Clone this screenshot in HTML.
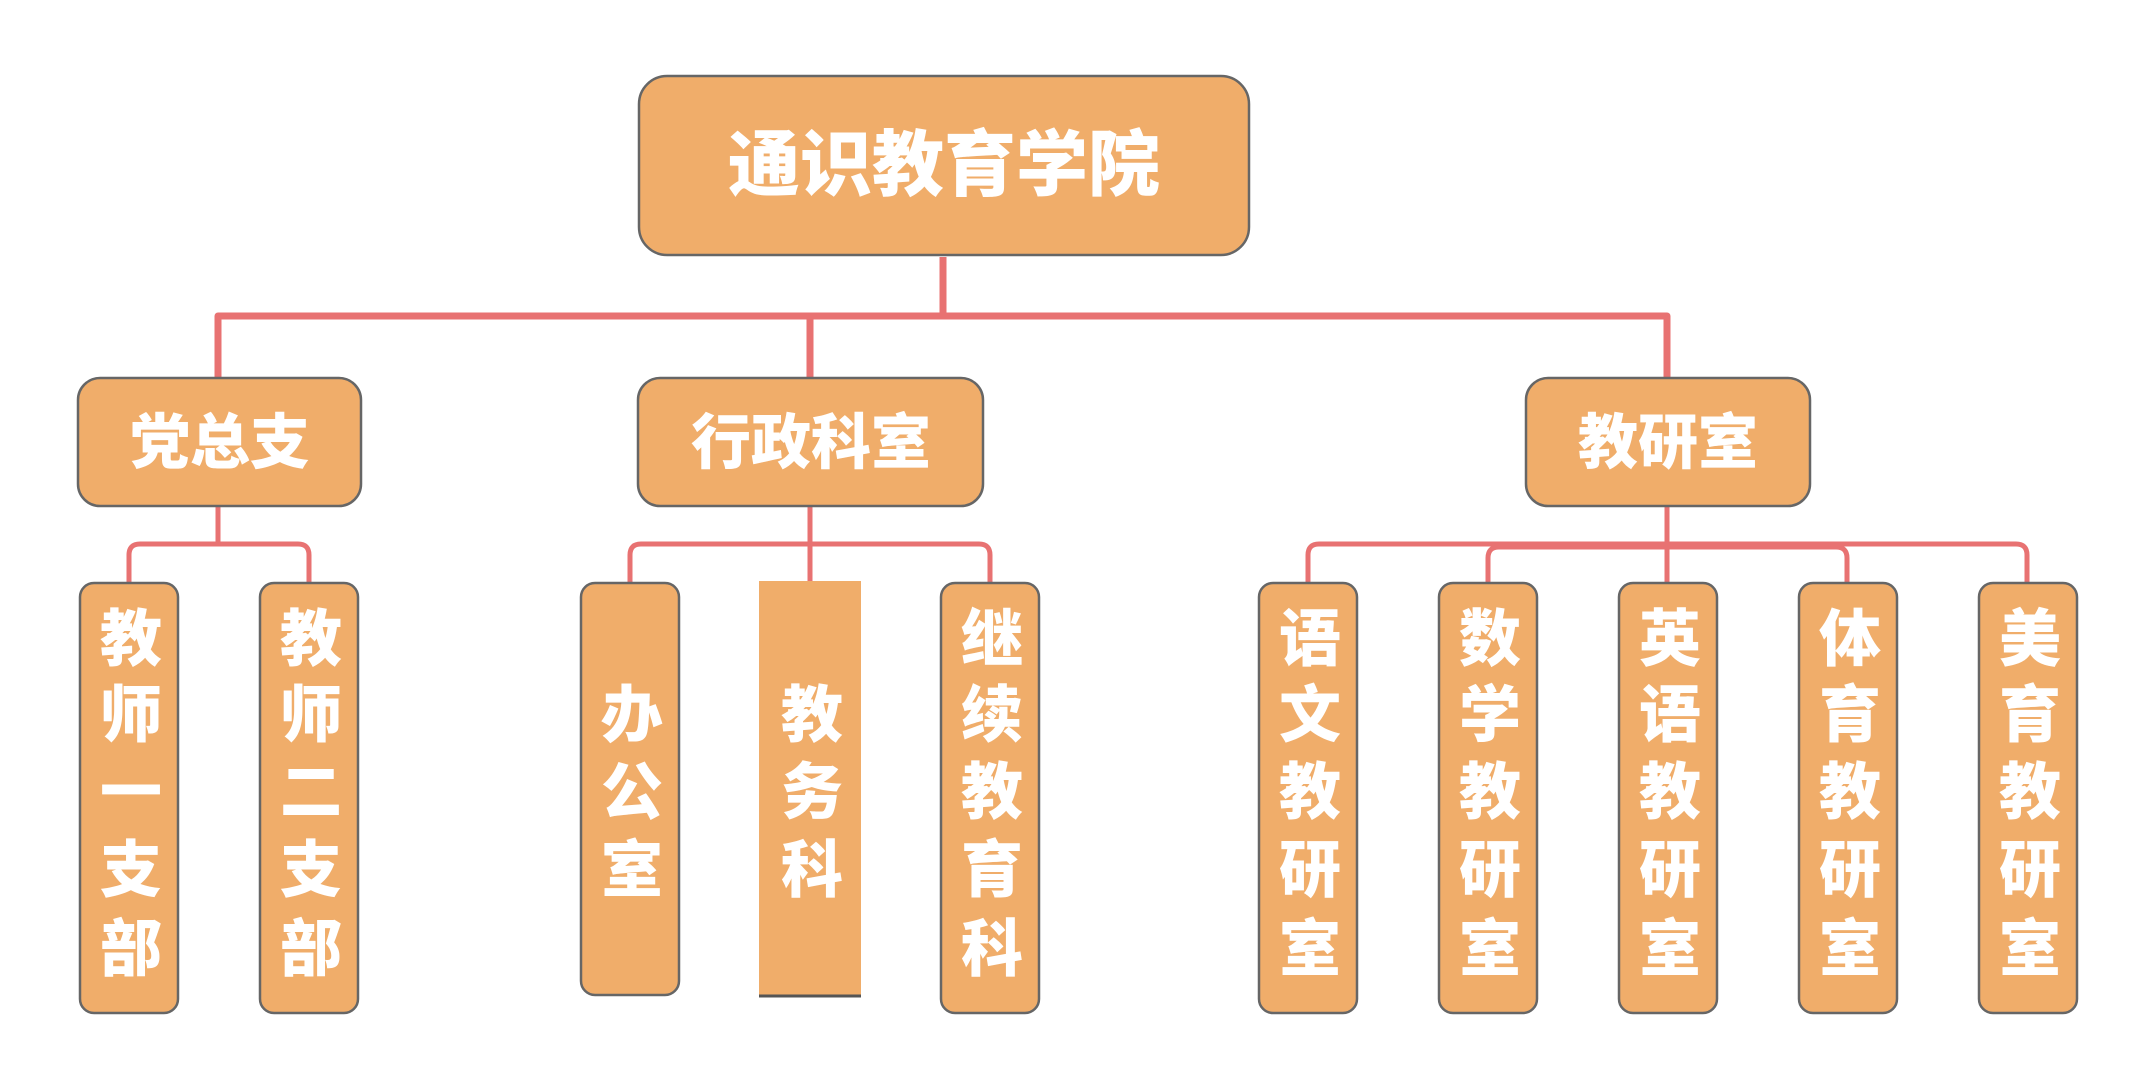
<!DOCTYPE html>
<html><head><meta charset="utf-8"><style>
html,body{margin:0;padding:0;background:#fff;}
svg{display:block;}
text{font-family:"Liberation Sans","Noto Sans CJK SC",sans-serif;font-weight:900;fill:#fff;text-anchor:middle;dominant-baseline:central;}
</style></head><body>
<svg width="2152" height="1089" viewBox="0 0 2152 1089" xmlns="http://www.w3.org/2000/svg">
<g fill="none" stroke="#E87272" stroke-linejoin="round">
  <path d="M943 257 V316 M218 377 V316 H1667 V377 M810 316 V377" stroke-width="7"/>
  <path d="M218 506 V544 M129 582 V555 Q129 544 140 544 H298 Q309 544 309 555 V582" stroke-width="5"/>
  <path d="M810 506 V582 M630 582 V555 Q630 544 641 544 H979 Q990 544 990 555 V582" stroke-width="5"/>
  <path d="M1667 506 V582 M1308 582 V555 Q1308 544 1319 544 H2016 Q2027 544 2027 555 V582" stroke-width="5"/>
  <path d="M1488 582 V558 Q1488 547 1499 547 H1836 Q1847 547 1847 558 V582" stroke-width="5"/>
</g>
<g fill="#F0AD6A" stroke="#666" stroke-width="2.5">
  <rect x="639" y="76" width="610" height="179" rx="28"/>
  <rect x="78" y="378" width="283" height="128" rx="22"/>
  <rect x="638" y="378" width="345" height="128" rx="22"/>
  <rect x="1526" y="378" width="284" height="128" rx="22"/>
  <rect x="80" y="583" width="98" height="430" rx="14"/>
  <rect x="260" y="583" width="98" height="430" rx="14"/>
  <rect x="581" y="583" width="98" height="412" rx="14"/>
  <rect x="941" y="583" width="98" height="430" rx="14"/>
  <rect x="1259" y="583" width="98" height="430" rx="14"/>
  <rect x="1439" y="583" width="98" height="430" rx="14"/>
  <rect x="1619" y="583" width="98" height="430" rx="14"/>
  <rect x="1799" y="583" width="98" height="430" rx="14"/>
  <rect x="1979" y="583" width="98" height="430" rx="14"/>
</g>
<rect x="759" y="581" width="102" height="415" fill="#F0AD6A"/>
<line x1="759" y1="996" x2="861" y2="996" stroke="#555" stroke-width="3"/>
<text x="944" y="166" font-size="72">通识教育学院</text>
<text x="220" y="443" font-size="60">党总支</text>
<text x="811" y="443" font-size="60">行政科室</text>
<text x="1668" y="443" font-size="60">教研室</text>
<g font-size="62">
<text x="131" y="640">教</text><text x="131" y="716">师</text><text x="131" y="793">一</text><text x="131" y="871">支</text><text x="131" y="950">部</text>
<text x="311" y="640">教</text><text x="311" y="716">师</text><text x="311" y="793">二</text><text x="311" y="871">支</text><text x="311" y="950">部</text>
<text x="632" y="716">办</text><text x="632" y="793">公</text><text x="632" y="871">室</text>
<text x="812" y="716">教</text><text x="812" y="793">务</text><text x="812" y="871">科</text>
<text x="992" y="640">继</text><text x="992" y="716">续</text><text x="992" y="793">教</text><text x="992" y="871">育</text><text x="992" y="950">科</text>
<text x="1310" y="640">语</text><text x="1310" y="716">文</text><text x="1310" y="793">教</text><text x="1310" y="871">研</text><text x="1310" y="950">室</text>
<text x="1490" y="640">数</text><text x="1490" y="716">学</text><text x="1490" y="793">教</text><text x="1490" y="871">研</text><text x="1490" y="950">室</text>
<text x="1670" y="640">英</text><text x="1670" y="716">语</text><text x="1670" y="793">教</text><text x="1670" y="871">研</text><text x="1670" y="950">室</text>
<text x="1850" y="640">体</text><text x="1850" y="716">育</text><text x="1850" y="793">教</text><text x="1850" y="871">研</text><text x="1850" y="950">室</text>
<text x="2030" y="640">美</text><text x="2030" y="716">育</text><text x="2030" y="793">教</text><text x="2030" y="871">研</text><text x="2030" y="950">室</text>
</g>
</svg>
</body></html>
